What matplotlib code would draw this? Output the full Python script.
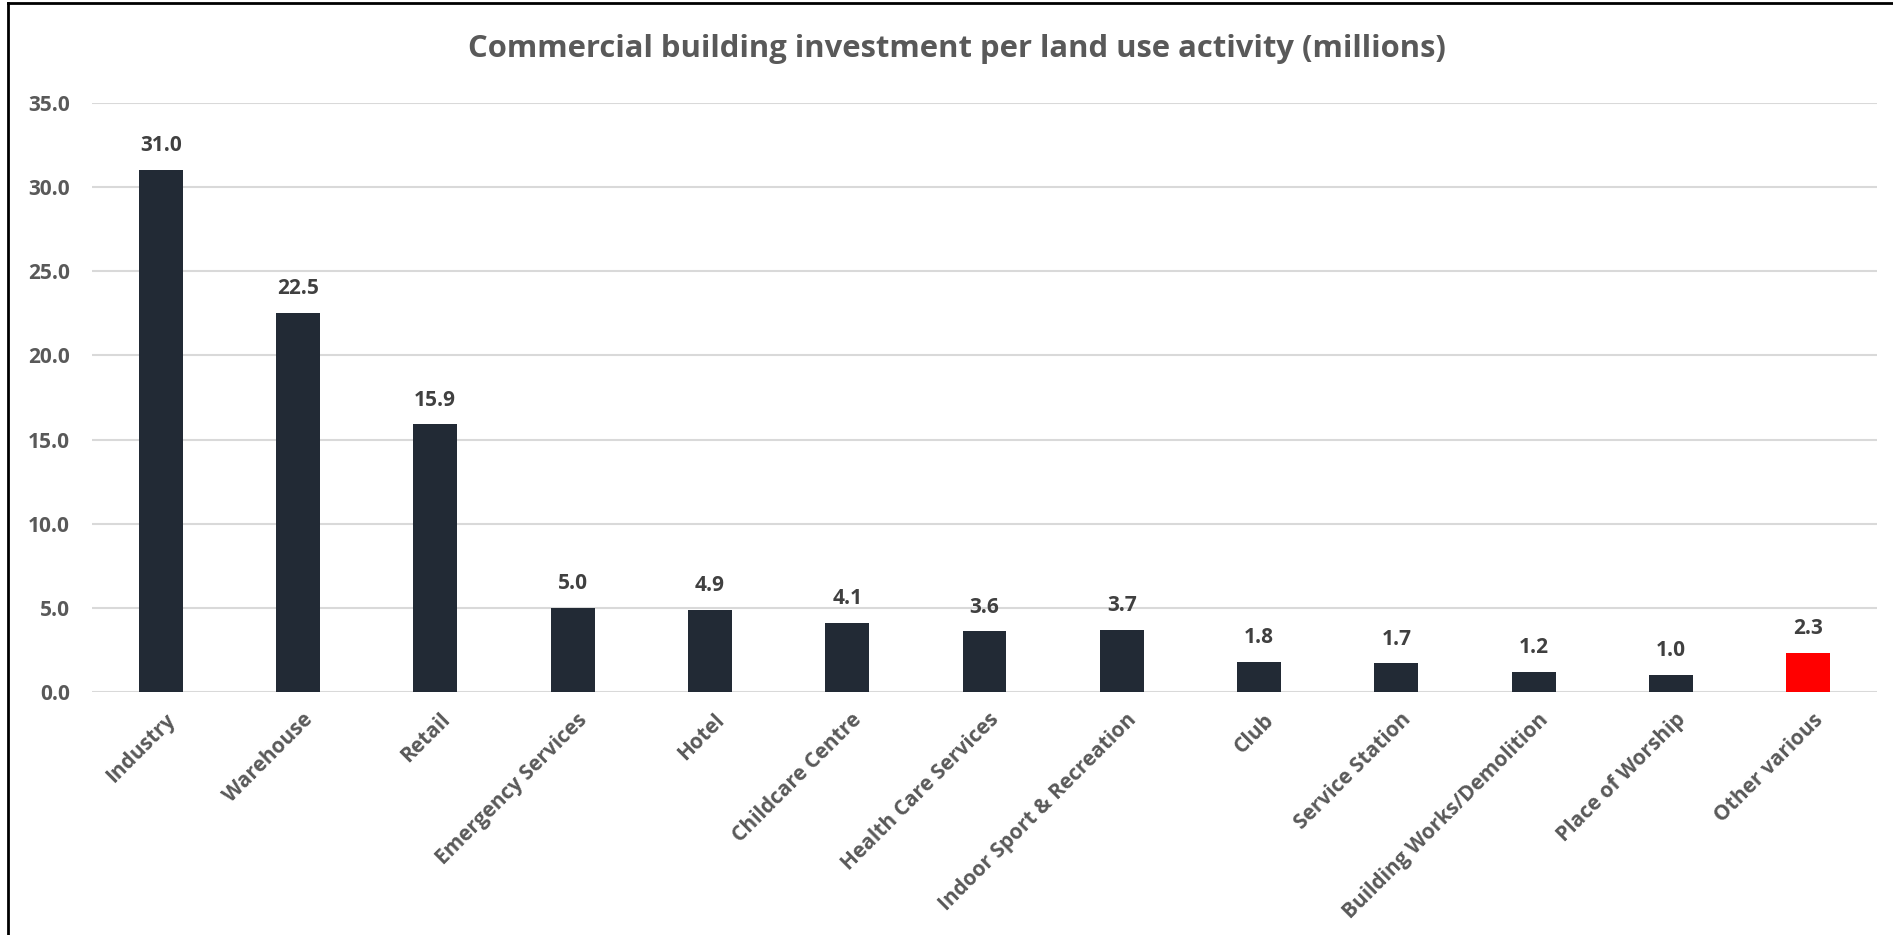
import matplotlib
matplotlib.use("Agg")
import matplotlib.pyplot as plt
from matplotlib.lines import Line2D
from matplotlib.transforms import ScaledTranslation

categories = ["Industry", "Warehouse", "Retail", "Emergency Services", "Hotel",
              "Childcare Centre", "Health Care Services", "Indoor Sport & Recreation",
              "Club", "Service Station", "Building Works/Demolition",
              "Place of Worship", "Other various"]
values = [31.0, 22.5, 15.9, 5.0, 4.9, 4.1, 3.6, 3.7, 1.8, 1.7, 1.2, 1.0, 2.3]
bar_colors = ["#222A35"] * 12 + ["#FF0000"]
yticks = [0, 5, 10, 15, 20, 25, 30, 35]
title = "Commercial building investment per land use activity (millions)"

W, H, DPI = 1893, 935, 100
fig = plt.figure(figsize=(W / DPI, H / DPI), dpi=DPI)
fig.patch.set_facecolor("white")

FONT = "Open Sans"
GRAY = "#595959"

ax = fig.add_axes([92 / W, 1 - 692 / H, (1877 - 92) / W, (692 - 103) / H])
x = list(range(len(categories)))
bars = ax.bar(x, values, width=0.32, color=bar_colors, zorder=3)
ax.set_xlim(-0.5, len(categories) - 0.5)
ax.set_ylim(0, 35)
ax.set_yticks(yticks)
ax.set_yticklabels([f"{v:.1f}" for v in yticks], fontfamily=FONT,
                   fontweight="bold", fontsize=15, color=GRAY)
ax.yaxis.grid(True, color="#D9D9D9", linewidth=1.5, zorder=0)
ax.set_axisbelow(True)
for s in ax.spines.values():
    s.set_visible(False)
ax.tick_params(axis="y", length=0, pad=16)
ax.tick_params(axis="x", length=0, pad=6)

ax.set_xticks(x)
labels = ax.set_xticklabels(categories, rotation=45, ha="right",
                            rotation_mode="anchor", fontfamily=FONT,
                            fontweight="bold", fontsize=15, color=GRAY)
offset = ScaledTranslation(4 / DPI, -9 / DPI, fig.dpi_scale_trans)
for lab in labels:
    lab.set_transform(lab.get_transform() + offset)

for xi, v in zip(x, values):
    ax.annotate(f"{v:.1f}", (xi, v), xytext=(0, 10), textcoords="offset points",
                ha="center", va="bottom", fontfamily=FONT, fontweight="bold",
                fontsize=15, color="#404040")

fig.text(957 / W, 1 - 49 / H, title, ha="center", va="center",
         fontfamily=FONT, fontweight="bold", fontsize=22.3, color=GRAY)

# chart frame (cropped at right/bottom)
fig.add_artist(Line2D([8 / W, 8 / W], [0, 1 - 3 / H], transform=fig.transFigure,
                      color="black", linewidth=2))
fig.add_artist(Line2D([8 / W, 1], [1 - 3 / H, 1 - 3 / H], transform=fig.transFigure,
                      color="black", linewidth=2))

fig.savefig("out.png", dpi=DPI)
